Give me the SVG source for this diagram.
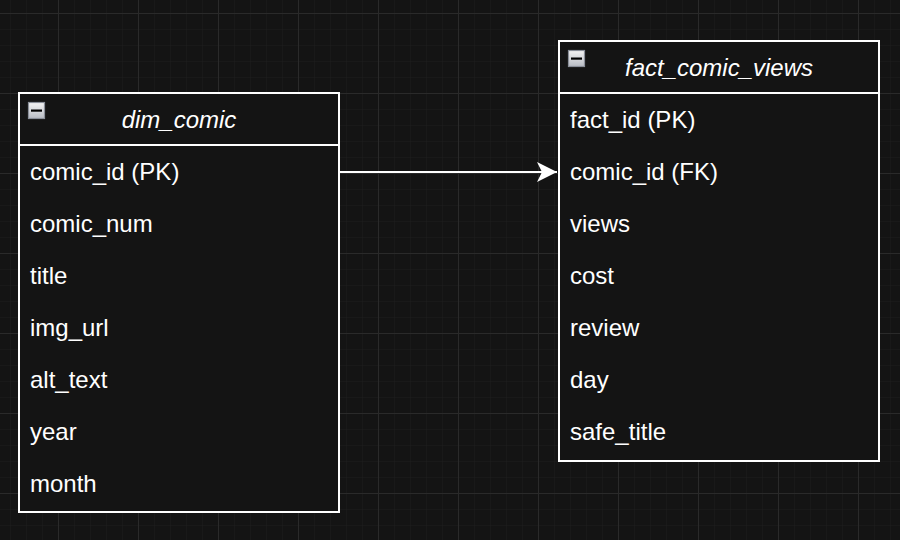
<svg xmlns="http://www.w3.org/2000/svg" width="900" height="540" viewBox="0 0 900 540">
<defs>
<pattern id="minor" x="10" y="13" width="16" height="16" patternUnits="userSpaceOnUse">
<path d="M0 0H16M0 0V16" stroke="#1e1e1e" stroke-width="1" fill="none"/>
</pattern>
<pattern id="major" x="58" y="13" width="80" height="80" patternUnits="userSpaceOnUse">
<path d="M0 0.5H80M0.5 0V80" stroke="#2a2a2a" stroke-width="1" fill="none"/>
</pattern>
<linearGradient id="ig" x1="0" y1="0" x2="0" y2="1">
<stop offset="0" stop-color="#f4f4f4"/>
<stop offset="1" stop-color="#b8bcc4"/>
</linearGradient>
<marker id="arr" markerWidth="22" markerHeight="22" viewBox="0 0 22 22" refX="20" refY="11" orient="auto" markerUnits="userSpaceOnUse">
<path d="M0 1 L20 11 L0 21 L5 11 Z" fill="#ffffff"/>
</marker>
<g id="icon">
<rect x="0.5" y="0.5" width="16" height="16" fill="url(#ig)" stroke="#8a8f99" stroke-width="1.2"/>
<rect x="3" y="7.5" width="11" height="2.2" fill="#000"/>
</g>
</defs>
<style>
.tbl{fill:#141414;stroke:#ffffff;stroke-width:2}
.sep{stroke:#ffffff;stroke-width:2}
.row{font-family:"Liberation Sans",Arial,sans-serif;font-size:24px;fill:#ffffff}
.ttl{font-family:"Liberation Sans",Arial,sans-serif;font-size:24px;font-style:italic;fill:#ffffff;text-anchor:middle}
</style>
<rect width="900" height="540" fill="#141414"/>
<rect width="900" height="540" fill="url(#minor)"/>
<rect width="900" height="540" fill="url(#major)"/>

<g id="connectors">
<path d="M339 172 H557" stroke="#ffffff" stroke-width="2" fill="none" marker-end="url(#arr)"/>
</g>

<g id="dim_comic">
<rect class="tbl" x="19" y="93" width="320" height="419"/>
<line class="sep" x1="19" y1="145" x2="339" y2="145"/>
<use href="#icon" x="28" y="102"/>
<text class="ttl" x="179" y="128">dim_comic</text>
<text class="row" x="30" y="180">comic_id (PK)</text>
<text class="row" x="30" y="232">comic_num</text>
<text class="row" x="30" y="284">title</text>
<text class="row" x="30" y="336">img_url</text>
<text class="row" x="30" y="388">alt_text</text>
<text class="row" x="30" y="440">year</text>
<text class="row" x="30" y="492">month</text>
</g>

<g id="fact_comic_views">
<rect class="tbl" x="559" y="41" width="320" height="420"/>
<line class="sep" x1="559" y1="93" x2="879" y2="93"/>
<use href="#icon" x="568" y="50"/>
<text class="ttl" x="719" y="76">fact_comic_views</text>
<text class="row" x="570" y="128">fact_id (PK)</text>
<text class="row" x="570" y="180">comic_id (FK)</text>
<text class="row" x="570" y="232">views</text>
<text class="row" x="570" y="284">cost</text>
<text class="row" x="570" y="336">review</text>
<text class="row" x="570" y="388">day</text>
<text class="row" x="570" y="440">safe_title</text>
</g>
</svg>
